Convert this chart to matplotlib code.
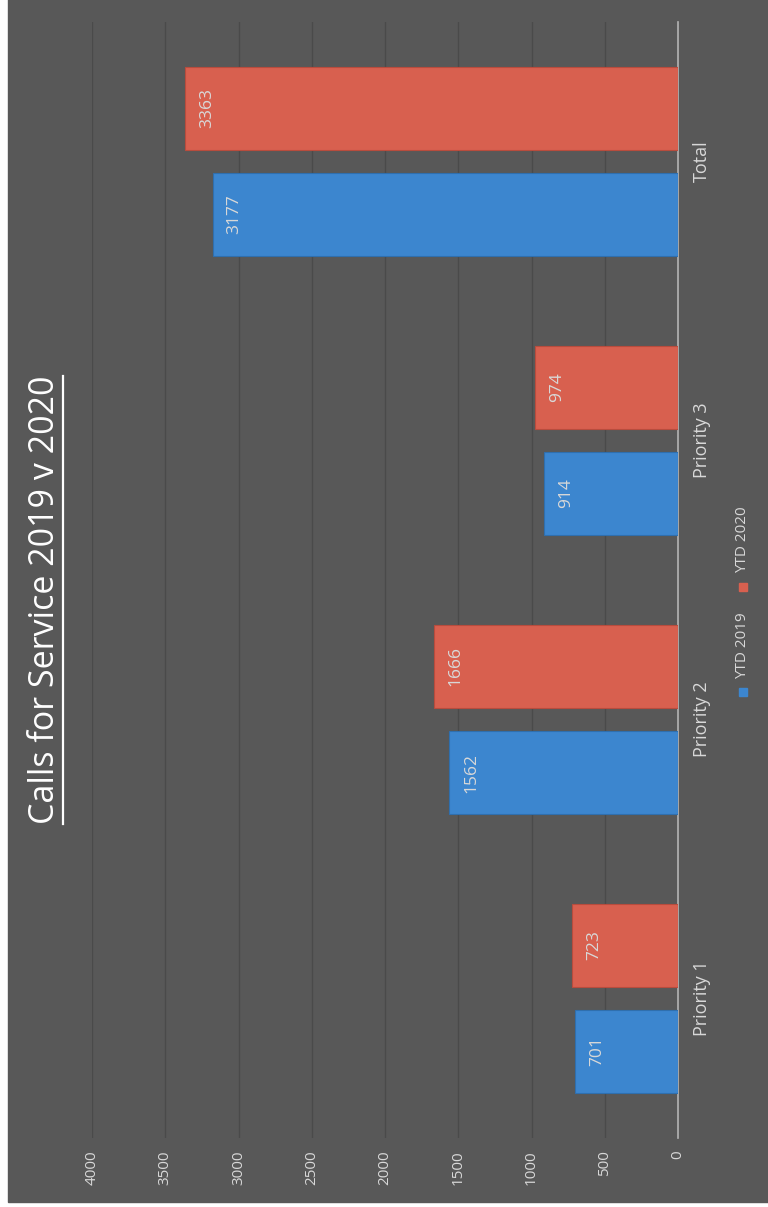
import numpy as np
import matplotlib.pyplot as plt
from matplotlib.patches import Rectangle
from matplotlib.lines import Line2D

categories = ['Priority 1', 'Priority 2', 'Priority 3', 'Total']
ytd_2019 = [701, 1562, 914, 3177]
ytd_2020 = [723, 1666, 974, 3363]
value_ticks = [0, 500, 1000, 1500, 2000, 2500, 3000, 3500, 4000]

BG = '#585858'
TXT = '#d8d8d8'
BLUE = '#3c86cf'
RED = '#d8604f'
FONT = 'Open Sans'

W, H = 768, 1207
fig = plt.figure(figsize=(W / 100, H / 100), dpi=100, facecolor='white')
fig.patches.append(Rectangle((8 / W, 5 / H), 1, 1, transform=fig.transFigure,
                             color=BG, zorder=-10))

# chart is a column chart turned 90 degrees counter-clockwise
ax = fig.add_axes([92 / W, 1 - 1138 / H, (678 - 92) / W, (1138 - 22) / H])
ax.set_facecolor('none')

y = np.arange(len(categories))
h = 0.295
off = 0.19
b1 = ax.barh(y - off, ytd_2019, height=h, color=BLUE, edgecolor='#2f6fae', lw=0.8, zorder=3)
b2 = ax.barh(y + off, ytd_2020, height=h, color=RED, edgecolor='#b84c3d', lw=0.8, zorder=3)

for bars, vals in ((b1, ytd_2019), (b2, ytd_2020)):
    for bar, v in zip(bars, vals):
        ax.annotate(str(v), xy=(v, bar.get_y() + bar.get_height() / 2),
                    xytext=(10, 0), textcoords='offset points',
                    rotation=90, ha='left', va='center',
                    color=TXT, fontsize=12.5, family=FONT, zorder=4)

ax.set_xlim(4000, 0)
ax.set_ylim(-0.5, 3.5)
ax.set_xticks(value_ticks)
ax.set_xticklabels([str(t) for t in value_ticks], rotation=90,
                   color=TXT, fontsize=11, family=FONT)
ax.tick_params(axis='x', length=0, pad=9)
ax.grid(axis='x', color='#4a4a4a', lw=1, zorder=0)

ax.yaxis.tick_right()
ax.set_yticks(y)
ax.set_yticklabels(categories, rotation=90, va='center',
                   color=TXT, fontsize=13, family=FONT)
ax.tick_params(axis='y', length=0, pad=11)

for s in ['left', 'top', 'bottom']:
    ax.spines[s].set_visible(False)
ax.spines['right'].set_color('#b5b5b5')
ax.spines['right'].set_linewidth(1.2)

# title with underline
title = fig.text(45 / W, 1 - 600 / H, 'Calls for Service 2019 v 2020',
                 rotation=90, ha='center', va='center', color='white',
                 fontsize=24.5, family=FONT)
fig.canvas.draw()
bb = title.get_window_extent().transformed(fig.transFigure.inverted())
ux = bb.x1 + 1 / W
fig.add_artist(Line2D([ux, ux], [bb.y0, bb.y1], transform=fig.transFigure,
                      color='white', lw=1.6))

# legend, written sideways
lx = 743 / W
fig.add_artist(Line2D([lx], [1 - 692 / H], marker='s', ms=6, color=BLUE,
                      transform=fig.transFigure))
fig.text(lx, 1 - 646 / H, 'YTD 2019', rotation=90, ha='center', va='center',
         color=TXT, fontsize=11, family=FONT)
fig.add_artist(Line2D([lx], [1 - 587 / H], marker='s', ms=6, color=RED,
                      transform=fig.transFigure))
fig.text(lx, 1 - 540 / H, 'YTD 2020', rotation=90, ha='center', va='center',
         color=TXT, fontsize=11, family=FONT)

plt.savefig('out.png', dpi=100, facecolor=fig.get_facecolor())
